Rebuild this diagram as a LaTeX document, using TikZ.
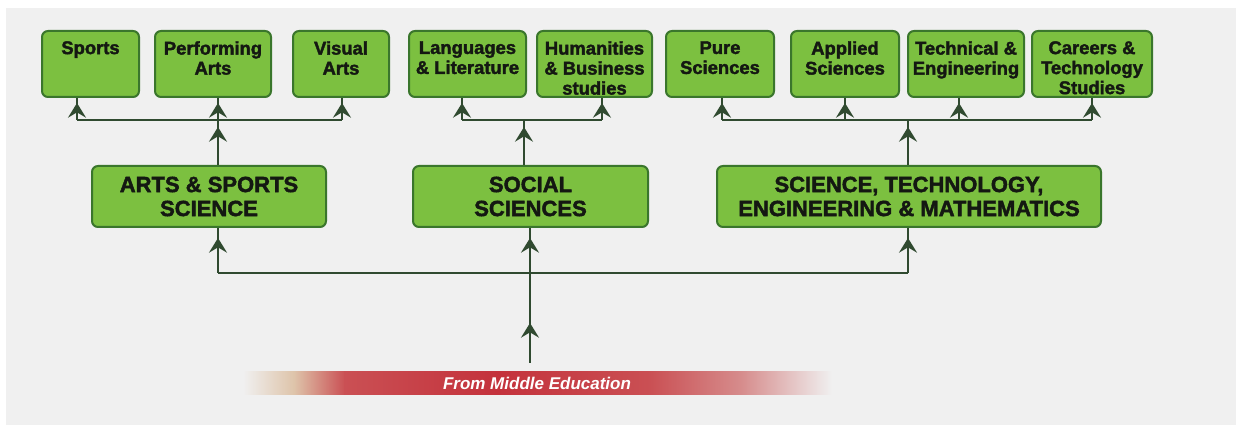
\documentclass[tikz,border=0pt]{standalone}
\usepackage{fontspec}
\setmainfont{Liberation Sans}
\newfontfamily\heavyfont{Liberation Sans}[BoldFeatures={FakeBold=2}]
\usetikzlibrary{arrows.meta,decorations.markings,calc}
\definecolor{bgc}{RGB}{240,240,240}
\definecolor{boxfill}{RGB}{124,192,64}
\definecolor{boxedge}{RGB}{58,118,44}
\definecolor{linec}{RGB}{48,74,48}
\definecolor{txt}{RGB}{20,24,18}
\definecolor{barr}{RGB}{196,50,60}
\definecolor{barl}{RGB}{202,80,84}
\definecolor{beige}{RGB}{222,196,170}
\definecolor{pinkish}{RGB}{214,140,140}
\newcommand\topfont{\heavyfont\fontsize{13.8pt}{15pt}\selectfont\bfseries}
\newcommand\midfont{\heavyfont\fontsize{16.5pt}{18pt}\selectfont\bfseries}
\newcommand\barfont{\fontsize{12.75pt}{14pt}\selectfont\bfseries\itshape}
\tikzset{
  tbox/.style={draw=boxedge, fill=boxfill, rounded corners=4.5pt, line width=1.5pt, inner sep=0pt},
  ttext/.style={font=\topfont, align=center, anchor=north, inner sep=0pt, text=txt},
  mtext/.style={font=\midfont, align=center, inner sep=0pt, text=txt},
  conn/.style={draw=linec, line width=2pt},
  tipat/.style={postaction={decorate, decoration={markings, mark=at position #1 with {\arrow{Stealth[length=11pt,width=13.5pt,inset=4pt]}}}}}
}
\begin{document}
\begin{tikzpicture}[x=0.75pt,y=-0.75pt]
\useasboundingbox (0,0) rectangle (1236,427);
\fill[white] (0,0) rectangle (1236,427);
\fill[bgc] (6,8) rectangle (1236,425);

% top boxes
\node[tbox, minimum width=97*0.75pt, minimum height=66*0.75pt] (sports) at (90.5,64) {};
\node[tbox, minimum width=116*0.75pt, minimum height=66*0.75pt] (perf) at (213,64) {};
\node[tbox, minimum width=96*0.75pt, minimum height=66*0.75pt] (visual) at (341,64) {};
\node[tbox, minimum width=117*0.75pt, minimum height=66*0.75pt] (lang) at (467.5,64) {};
\node[tbox, minimum width=115*0.75pt, minimum height=66*0.75pt] (hum) at (594.5,64) {};
\node[tbox, minimum width=108*0.75pt, minimum height=66*0.75pt] (pure) at (720,64) {};
\node[tbox, minimum width=108*0.75pt, minimum height=66*0.75pt] (applied) at (845,64) {};
\node[tbox, minimum width=116*0.75pt, minimum height=66*0.75pt] (tech) at (966,64) {};
\node[tbox, minimum width=120*0.75pt, minimum height=66*0.75pt] (careers) at (1092,64) {};

\node[ttext] (sportsT) at (90.5,41) {Sports};
\node[ttext] (perfT) at (213,41) {Performing\\Arts};
\node[ttext] (visualT) at (341,41) {Visual\\Arts};
\node[ttext] (langT) at (467.5,41) {Languages\\\& Literature};
\node[ttext] (humT) at (594.5,41) {Humanities\\\& Business\\studies};
\node[ttext] (pureT) at (720,41) {Pure\\Sciences};
\node[ttext] (appliedT) at (845,41) {Applied\\Sciences};
\node[ttext] (techT) at (966,41) {Technical \&\\Engineering};
\node[ttext] (careersT) at (1092,41) {Careers \&\\Technology\\Studies};

% middle boxes
\node[tbox, minimum width=234*0.75pt, minimum height=61*0.75pt] (arts) at (209,196.5) {};
\node[tbox, minimum width=235*0.75pt, minimum height=61*0.75pt] (social) at (530.5,196.5) {};
\node[tbox, minimum width=384*0.75pt, minimum height=61*0.75pt] (stem) at (909,196.5) {};
\node[mtext] (artsT) at (209,196.5) {ARTS \& SPORTS\\SCIENCE};
\node[mtext] (socialT) at (530.5,196.5) {SOCIAL\\SCIENCES};
\node[mtext] (stemT) at (909,196.5) {SCIENCE, TECHNOLOGY,\\ENGINEERING \& MATHEMATICS};

% junction coordinates
\coordinate (aL) at (77,120);
\coordinate (aJ) at (218,120);
\coordinate (aR) at (342,120);
\coordinate (sL) at (462,120);
\coordinate (sJ) at (524,120);
\coordinate (sR) at (602,120);
\coordinate (tL) at (722,120);
\coordinate (tA) at (845,120);
\coordinate (tJ) at (908,120);
\coordinate (tT) at (959,120);
\coordinate (tR) at (1092,120);
\coordinate (bL) at (218,273);
\coordinate (bM) at (530,273);
\coordinate (bR) at (908,273);
\coordinate (mS) at (530,363);

% arts group
\draw[conn] (aL) -- (aR);
\draw[conn,tipat=12.75pt] (aL) -- (aL |- sports.south);
\draw[conn,tipat=12.75pt] (aJ) -- (aJ |- perf.south);
\draw[conn,tipat=12.75pt] (aR) -- (aR |- visual.south);
\draw[conn,tipat=28.5pt] (aJ |- arts.north) -- (aJ);
% social group
\draw[conn] (sL) -- (sR);
\draw[conn,tipat=12.75pt] (sL) -- (sL |- lang.south);
\draw[conn,tipat=12.75pt] (sR) -- (sR |- hum.south);
\draw[conn,tipat=28.5pt] (sJ |- social.north) -- (sJ);
% stem group
\draw[conn] (tL) -- (tR);
\draw[conn,tipat=12.75pt] (tL) -- (tL |- pure.south);
\draw[conn,tipat=12.75pt] (tA) -- (tA |- applied.south);
\draw[conn,tipat=12.75pt] (tT) -- (tT |- tech.south);
\draw[conn,tipat=12.75pt] (tR) -- (tR |- careers.south);
\draw[conn,tipat=28.5pt] (tJ |- stem.north) -- (tJ);
% bottom bus
\draw[conn] (bL) -- (bR);
\draw[conn,tipat=26.25pt] (bL) -- (bL |- arts.south);
\draw[conn,tipat=26.25pt] (bM) -- (bM |- social.south);
\draw[conn,tipat=26.25pt] (bR) -- (bR |- stem.south);
\draw[conn,tipat=30pt] (mS) -- (bM);

% red bar
\shade[left color=bgc, right color=barl, middle color=beige] (243,372) rectangle (345,395);
\shade[left color=barl, right color=barl, middle color=barr] (344,372) rectangle (651,395);
\shade[left color=barl, right color=bgc, middle color=pinkish] (650,372) rectangle (832,395);
\node[font=\barfont, text=white, inner sep=0pt] (bar) at (537,383.5) {From Middle Education};
\end{tikzpicture}
\end{document}
